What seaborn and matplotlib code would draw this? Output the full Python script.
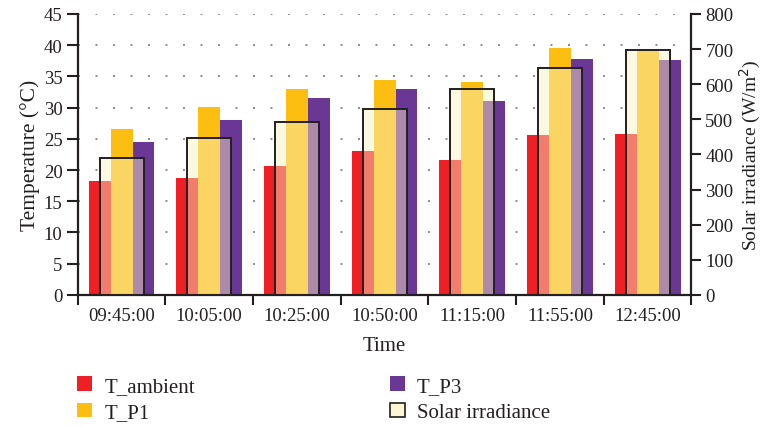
import matplotlib
matplotlib.use("Agg")
import matplotlib.pyplot as plt
from matplotlib.patches import Patch
from matplotlib.ticker import FixedLocator, MultipleLocator
import numpy as np
import pandas as pd
import seaborn as sns

times = ["09:45:00", "10:05:00", "10:25:00", "10:50:00", "11:15:00", "11:55:00", "12:45:00"]
t_ambient = [18.2, 18.8, 20.6, 23.0, 21.6, 25.6, 25.7]
t_p1 = [26.5, 30.1, 33.0, 34.4, 34.1, 39.5, 39.2]
t_p3 = [24.5, 28.0, 31.5, 33.0, 31.0, 37.8, 37.6]
irradiance = [390, 447, 493, 528, 586, 646, 697]

series_names = ["T_ambient", "T_P1", "T_P3"]
series_colors = ["#EE1F25", "#FDBE12", "#6B3795"]
irr_face = "#FAF2C3"
irr_alpha = 0.45
ink = "#231F20"
fs = 13.5

temps = pd.DataFrame({
    "Time": times * 3,
    "Series": [s for s in series_names for _ in times],
    "Temperature": t_ambient + t_p1 + t_p3,
})
irr = pd.DataFrame({"Time": times, "Irradiance": irradiance})

sns.set_theme(style="white")
plt.rcParams["font.family"] = ["Liberation Serif", "DejaVu Serif"]
plt.rcParams["text.color"] = ink
plt.rcParams["axes.labelcolor"] = ink
plt.rcParams["xtick.color"] = ink
plt.rcParams["ytick.color"] = ink

fig = plt.figure(figsize=(7.7, 4.27), dpi=100)
ax = fig.add_axes([0.101, 0.307, 0.797, 0.658])

sns.barplot(data=temps, x="Time", y="Temperature", hue="Series",
            palette=series_colors, width=0.75, saturation=1,
            order=times, hue_order=series_names, ax=ax, legend=False,
            linewidth=0, zorder=2)

ax2 = ax.twinx()
sns.barplot(data=irr, x="Time", y="Irradiance", order=times, ax=ax2,
            width=0.5, color=irr_face, saturation=1,
            edgecolor=ink, linewidth=1.4, zorder=3)
# translucent fill with a fully opaque outline
for bar in ax2.patches:
    fc = bar.get_facecolor()
    bar.set_facecolor((fc[0], fc[1], fc[2], irr_alpha))

ax.set_xlim(-0.5, len(times) - 0.5)
ax.set_ylim(0, 45)
ax2.set_ylim(0, 800)
ax.yaxis.set_major_locator(MultipleLocator(5))
ax2.yaxis.set_major_locator(MultipleLocator(100))

ax.grid(axis="y", color="#8C8C8C", linestyle=(0, (1, 8)), linewidth=1.4, zorder=0)
ax.grid(axis="x", visible=False)
ax.set_axisbelow(True)

# tick marks at group boundaries, labels at group centres
ax.xaxis.set_minor_locator(FixedLocator(np.arange(-0.5, len(times), 1.0)))
ax.tick_params(axis="x", which="major", length=0, labelsize=fs, pad=9)
ax.tick_params(axis="x", which="minor", length=7, width=1.5, direction="out", bottom=True)
ax.tick_params(axis="y", length=8, width=1.5, direction="out", labelsize=fs, pad=3, left=True)
ax2.tick_params(axis="y", length=7, width=1.5, direction="out", labelsize=fs, pad=3, right=True)

for a in (ax, ax2):
    a.spines["top"].set_visible(False)
    for side in ("left", "right", "bottom"):
        a.spines[side].set_linewidth(1.6)
        a.spines[side].set_color(ink)
ax.spines["right"].set_visible(False)
ax2.spines["left"].set_visible(False)
ax2.spines["bottom"].set_visible(False)

ax.set_xlabel("Time", fontsize=15, labelpad=8)
ax.set_ylabel("Temperature (°C)", fontsize=15.5, labelpad=3)
ax2.set_ylabel("Solar irradiance (W/m$^2$)", fontsize=14, labelpad=3)

handles = [Patch(facecolor=c, edgecolor="none") for c in series_colors]
handles.append(Patch(facecolor="#FDF6D2", edgecolor=ink, linewidth=1.2))
labels = series_names + ["Solar irradiance"]

legend_kw = dict(loc="upper left", frameon=False, fontsize=15,
                 handlelength=0.72, handleheight=0.68, handletextpad=0.6,
                 labelspacing=0.33, borderpad=0, borderaxespad=0)
leg1 = fig.legend(handles[:2], labels[:2], bbox_to_anchor=(0.100, 0.116), **legend_kw)
leg2 = fig.legend(handles[2:], labels[2:], bbox_to_anchor=(0.506, 0.116), **legend_kw)

fig.savefig("out.png", dpi=100)
